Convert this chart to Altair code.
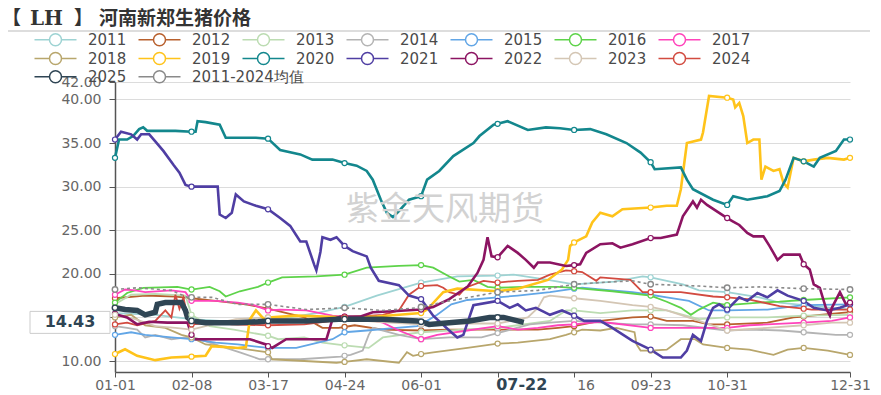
import altair as alt
import pandas as pd

SERIES = ["2011", "2012", "2013", "2014", "2015", "2016", "2017", "2018", "2019",
          "2020", "2021", "2022", "2023", "2024", "2025", "2011-2024均值"]
COLORS = ["#9ed3d3", "#b8602e", "#bcdcb2", "#b4b4b4", "#62a6e6", "#5ed34a", "#ff44bb",
          "#b8a66c", "#ffc31a", "#13878d", "#4f3ea3", "#8c1462", "#d4c6b4", "#d24b40",
          "#2f4554", "#8a8a8a"]

MARK_DAYS = [0, 38, 76, 114, 152, 190, 228, 266, 304, 342, 365]
TICK_DAYS = [0, 38, 76, 114, 152, 190, 228, 266, 304, 365]
TICK_LABELS = ["01-01", "02-08", "03-17", "04-24", "06-01", "07-09", "08-16", "09-23", "10-31", "12-31"]
Y_TICKS = [10, 15, 20, 25, 30, 35, 40, 42]

S2011 = [(0, 15.5), (20, 15.3), (38, 14.8), (60, 14.5), (76, 14.6), (100, 15.5), (114, 16.2), (130, 17.5),
         (152, 19.0), (170, 19.7), (190, 19.8), (198, 19.9), (215, 19.3), (228, 18.8), (248, 19.1), (262, 19.7),
         (266, 19.6), (282, 18.8), (290, 18.1), (304, 17.9), (320, 17.3), (330, 16.7), (342, 16.4), (365, 15.9)]
S2012 = [(0, 17.2), (15, 17.5), (30, 17.4), (38, 17.2), (50, 16.9), (65, 16.5), (76, 16.0), (94, 15.0),
         (103, 13.8), (111, 13.8), (114, 13.9), (119, 14.1), (133, 13.6), (152, 13.5), (166, 13.6), (190, 13.6),
         (210, 13.6), (220, 13.8), (228, 14.0), (241, 14.6), (257, 15.0), (266, 15.1), (274, 14.6), (287, 14.6),
         (295, 14.2), (304, 14.2), (324, 14.4), (337, 15.0), (342, 15.1), (350, 15.3), (365, 15.6)]
S2013 = [(0, 16.5), (8, 17.6), (20, 17.7), (35, 17.5), (38, 15.3), (47, 14.0), (59, 13.6), (76, 12.9),
         (81, 12.5), (94, 12.7), (103, 12.1), (114, 11.8), (126, 11.5), (133, 12.7), (152, 13.3), (166, 13.5),
         (190, 13.8), (200, 14.1), (216, 14.6), (224, 15.8), (228, 15.8), (241, 15.5), (257, 15.8), (266, 15.8),
         (274, 15.8), (290, 14.8), (304, 15.0), (324, 15.0), (342, 15.2), (365, 15.3)]
S2014 = [(0, 14.0), (6, 13.8), (11, 13.6), (15, 12.7), (20, 13.0), (28, 12.5), (38, 12.8), (47, 12.1),
         (62, 11.0), (72, 10.2), (76, 10.2), (92, 10.2), (112, 10.5), (114, 10.6), (117, 10.7), (123, 11.2),
         (126, 13.0), (128, 13.8), (141, 13.0), (152, 12.5), (166, 12.7), (182, 12.7), (190, 13.2), (206, 14.2),
         (216, 14.4), (228, 14.6), (241, 14.4), (257, 14.2), (266, 14.2), (282, 14.1), (304, 13.5), (315, 13.6),
         (331, 13.5), (342, 13.3), (358, 13.0), (365, 13.0)]
S2015 = [(0, 13.0), (8, 13.3), (15, 13.0), (28, 12.7), (38, 12.5), (50, 12.1), (61, 11.9), (76, 11.5),
         (90, 11.5), (108, 12.5), (114, 13.3), (125, 13.5), (150, 14.0), (152, 14.2), (160, 15.3), (167, 16.5),
         (175, 17.0), (190, 17.3), (200, 17.5), (216, 17.9), (228, 18.3), (232, 18.4), (241, 18.2), (257, 17.9),
         (266, 17.6), (274, 17.3), (285, 16.9), (295, 15.8), (304, 15.8), (324, 15.9), (342, 16.4), (365, 16.5)]
S2016 = [(0, 16.7), (6, 17.8), (14, 18.4), (31, 18.5), (38, 18.2), (47, 18.5), (52, 18.0), (55, 17.4),
         (62, 18.0), (71, 18.5), (76, 19.0), (83, 19.6), (100, 19.7), (114, 19.9), (125, 20.7), (141, 20.9),
         (152, 21.0), (158, 20.7), (166, 19.7), (171, 19.1), (178, 19.3), (185, 18.5), (190, 18.4), (203, 18.5),
         (220, 18.5), (228, 18.4), (247, 18.0), (266, 17.5), (274, 16.8), (281, 16.1), (286, 15.3), (290, 15.9),
         (297, 16.7), (304, 16.4), (320, 16.7), (330, 16.8), (342, 17.0), (365, 17.3)]
S2017 = [(0, 17.6), (5, 18.2), (10, 18.1), (15, 17.9), (28, 18.1), (35, 17.9), (38, 16.9), (50, 16.9),
         (61, 16.7), (69, 16.4), (76, 15.8), (82, 15.9), (95, 15.8), (108, 15.2), (114, 15.1), (120, 15.0),
         (133, 14.4), (141, 13.5), (152, 12.5), (160, 13.0), (175, 13.5), (190, 14.0), (200, 13.6), (210, 13.8),
         (220, 14.1), (228, 14.2), (241, 14.5), (266, 13.8), (290, 13.8), (304, 13.8), (315, 14.1), (342, 14.4),
         (356, 14.6), (365, 15.0)]
S2018 = [(0, 15.0), (8, 15.3), (15, 14.1), (25, 13.8), (33, 13.0), (38, 12.7), (45, 11.9), (60, 11.5),
         (76, 11.0), (78, 10.2), (94, 10.0), (110, 9.8), (114, 9.9), (125, 10.2), (141, 9.8), (145, 11.0),
         (148, 10.6), (152, 10.8), (158, 11.0), (175, 11.5), (190, 12.0), (200, 12.1), (216, 12.5), (224, 13.0),
         (228, 13.3), (232, 13.6), (241, 13.5), (249, 13.8), (258, 13.3), (259, 11.9), (261, 11.2), (266, 11.2),
         (274, 11.3), (281, 12.5), (288, 12.5), (292, 11.9), (304, 11.5), (315, 11.3), (327, 10.7), (334, 11.3),
         (342, 11.5), (354, 11.2), (365, 10.7)]
S2019 = [(0, 10.8), (5, 11.35), (11, 10.6), (20, 10.1), (28, 10.4), (38, 10.5), (45, 10.6), (48, 11.7),
         (61, 11.5), (65, 11.6), (67, 14.8), (70, 15.8), (74, 14.8), (76, 15.0), (90, 15.2), (114, 15.0),
         (130, 15.1), (152, 15.5), (155, 15.9), (163, 17.9), (170, 18.3), (190, 18.0), (200, 18.3), (215, 19.3),
         (222, 20.5), (225, 21.6), (226, 23.2), (228, 23.6), (234, 24.3), (237, 25.9), (241, 27.0), (247, 26.6),
         (252, 27.4), (266, 27.6), (274, 27.8), (279, 27.8), (281, 29.7), (284, 35.0), (291, 35.4), (292, 36.2),
         (295, 40.4), (304, 40.2), (307, 40.0), (308, 39.1), (310, 39.6), (312, 38.1), (314, 35.0), (317, 35.4),
         (320, 35.4), (321, 30.8), (323, 32.3), (327, 31.8), (330, 32.0), (332, 30.4), (334, 29.9), (337, 33.3),
         (342, 32.9), (347, 33.1), (354, 33.3), (362, 33.1), (365, 33.3)]
S2020 = [(0, 33.3), (2, 35.4), (6, 35.4), (9, 35.8), (12, 36.6), (14, 36.8), (16, 36.4), (30, 36.4),
         (38, 36.3), (40, 36.3), (41, 37.5), (45, 37.4), (52, 37.1), (55, 35.6), (70, 35.6), (76, 35.5),
         (82, 34.2), (92, 33.7), (98, 33.1), (108, 33.1), (114, 32.7), (120, 32.4), (125, 31.8), (128, 30.8),
         (132, 28.5), (135, 27.0), (138, 26.5), (141, 27.2), (146, 28.5), (152, 28.9), (155, 30.8), (161, 31.8),
         (168, 33.5), (178, 35.0), (181, 35.8), (188, 37.1), (190, 37.2), (195, 37.5), (205, 36.5), (214, 36.8),
         (221, 36.7), (228, 36.5), (236, 36.6), (244, 36.0), (254, 35.0), (261, 33.9), (266, 32.8), (268, 32.0),
         (281, 32.2), (284, 30.8), (287, 29.7), (297, 28.5), (304, 27.9), (307, 28.9), (314, 28.5), (324, 28.9),
         (330, 29.5), (333, 30.8), (337, 33.3), (342, 32.9), (347, 32.3), (350, 33.3), (358, 34.1), (362, 35.4),
         (365, 35.4)]
S2021 = [(0, 35.4), (3, 36.3), (8, 36.0), (11, 35.4), (13, 36.0), (17, 36.0), (20, 35.2), (24, 34.1),
         (29, 32.5), (32, 31.6), (35, 30.2), (38, 30.0), (51, 30.0), (52, 26.8), (55, 26.4), (58, 27.0),
         (60, 29.1), (64, 28.3), (70, 27.8), (76, 27.4), (82, 26.4), (87, 25.5), (92, 23.7), (95, 23.7),
         (99, 21.0), (100, 20.4), (102, 22.5), (103, 24.2), (107, 23.9), (110, 24.2), (114, 23.2), (118, 22.6),
         (125, 22.0), (127, 20.7), (131, 19.2), (141, 18.7), (146, 17.5), (152, 17.1), (158, 15.2), (166, 13.5),
         (170, 12.7), (173, 13.0), (178, 16.4), (190, 16.9), (196, 16.1), (200, 16.5), (204, 15.8), (209, 16.1),
         (216, 15.3), (222, 15.8), (228, 15.2), (233, 14.6), (241, 14.6), (247, 13.8), (257, 12.3), (266, 11.3),
         (272, 10.4), (281, 10.4), (284, 11.2), (287, 13.0), (291, 12.3), (294, 14.6), (297, 16.1), (300, 16.5),
         (304, 15.9), (310, 17.3), (314, 16.9), (319, 17.8), (324, 17.3), (329, 18.1), (334, 17.5), (342, 16.9),
         (347, 16.1), (354, 15.8), (360, 16.1), (365, 16.5)]
S2022 = [(0, 15.4), (6, 15.0), (11, 14.2), (17, 14.5), (26, 14.4), (36, 14.4), (38, 13.0), (39, 12.5),
         (47, 12.5), (67, 12.5), (75, 11.9), (76, 11.7), (78, 11.5), (85, 12.5), (105, 12.5), (108, 14.8),
         (112, 15.1), (114, 15.1), (122, 15.1), (128, 15.6), (138, 15.7), (152, 15.9), (158, 16.2), (166, 17.1),
         (175, 18.5), (180, 20.1), (183, 21.6), (185, 24.2), (187, 22.0), (190, 21.9), (195, 23.2), (200, 22.4),
         (204, 21.6), (208, 20.7), (210, 21.3), (216, 21.3), (224, 20.9), (228, 21.0), (231, 21.1), (234, 22.4),
         (241, 23.4), (247, 23.5), (251, 23.0), (257, 23.4), (266, 24.1), (271, 24.1), (279, 24.5), (282, 26.6),
         (287, 28.3), (289, 27.6), (291, 28.5), (294, 27.9), (304, 26.4), (307, 26.0), (310, 25.6), (314, 24.7),
         (317, 24.3), (322, 24.3), (325, 23.2), (329, 21.6), (332, 22.2), (340, 22.2), (342, 21.1), (345, 20.5),
         (347, 18.8), (350, 18.4), (353, 16.1), (355, 15.2), (356, 16.1), (360, 17.9), (363, 16.5), (365, 16.7)]
S2023 = [(0, 15.3), (10, 14.8), (20, 14.0), (30, 13.8), (38, 13.6), (50, 14.3), (60, 14.8), (76, 15.0),
         (95, 14.6), (114, 14.8), (130, 14.5), (152, 14.2), (170, 14.3), (190, 14.3), (205, 15.0), (210, 16.1),
         (213, 17.3), (216, 17.5), (228, 17.2), (241, 16.9), (257, 16.4), (266, 16.2), (274, 15.8), (282, 15.2),
         (290, 14.6), (304, 13.5), (324, 13.8), (342, 14.1), (356, 14.4), (365, 14.4)]
S2024 = [(0, 14.2), (6, 14.4), (11, 14.1), (20, 14.6), (25, 15.8), (28, 15.0), (30, 17.6), (32, 16.0),
         (34, 17.3), (36, 15.0), (38, 14.2), (50, 14.4), (58, 14.2), (76, 14.1), (94, 14.2), (108, 14.6),
         (114, 15.0), (133, 15.3), (141, 15.8), (146, 17.6), (152, 18.6), (160, 18.7), (163, 18.4), (166, 17.9),
         (171, 17.6), (174, 18.4), (183, 19.2), (190, 19.0), (200, 19.2), (210, 19.3), (216, 19.9), (224, 20.4),
         (228, 20.3), (232, 20.2), (239, 19.2), (241, 19.6), (256, 19.3), (262, 17.9), (266, 17.9), (281, 17.9),
         (297, 17.4), (304, 17.3), (314, 17.1), (330, 16.3), (342, 16.0), (346, 15.9), (365, 15.9)]
S2025 = [(0, 16.1), (5, 15.9), (11, 15.8), (15, 15.3), (20, 15.6), (21, 16.5), (25, 16.7), (33, 16.7),
         (35, 15.8), (36, 15.0), (38, 14.6), (45, 14.4), (61, 14.4), (71, 14.5), (76, 14.6), (95, 14.6),
         (111, 14.8), (114, 14.8), (133, 14.8), (150, 14.6), (152, 14.5), (156, 14.2), (166, 14.4), (176, 14.6),
         (186, 15.0), (190, 15.0), (193, 15.0), (200, 14.6), (203, 14.43)]
SAVG = [(0, 18.2), (11, 18.4), (28, 18.1), (36, 17.3), (38, 17.3), (48, 17.3), (61, 16.5), (76, 16.5),
        (95, 15.9), (114, 16.1), (133, 15.8), (150, 16.1), (152, 16.2), (166, 16.9), (190, 17.9), (210, 18.1),
        (228, 18.8), (241, 19.0), (257, 19.2), (266, 18.8), (290, 18.6), (304, 18.4), (320, 18.5), (342, 18.3),
        (365, 18.2)]

ALL = [S2011, S2012, S2013, S2014, S2015, S2016, S2017, S2018, S2019, S2020,
       S2021, S2022, S2023, S2024, S2025, SAVG]

rows = []
for name, pts in zip(SERIES, ALL):
    for d, v in pts:
        rows.append({"series": name, "day": d, "value": v, "marker": d in MARK_DAYS})
df = pd.DataFrame(rows)

THIN = ["2011", "2012", "2013", "2014", "2015", "2016", "2017", "2018", "2023", "2024"]
BOLD = ["2019", "2020", "2021", "2022"]
YEARS = SERIES[:14]
EXTRA = SERIES[14:]

label_expr = "[" + ",".join("'%s'" % s for s in TICK_LABELS) + "][indexof([" + \
    ",".join(str(d) for d in TICK_DAYS) + "], datum.value)]"

X_ENC = alt.X("day:Q", scale=alt.Scale(domain=[0, 365], nice=False, zero=False),
              axis=alt.Axis(values=TICK_DAYS, labelExpr=label_expr, title=None, grid=False,
                            domainColor="#555", domainWidth=1.5, tickColor="#555", tickSize=5,
                            labelColor="#666", labelFont="DejaVu Sans", labelFontSize=14,
                            labelPadding=1, labelOverlap=False, labelFlush=False))
Y_ENC = alt.Y("value:Q", scale=alt.Scale(domain=[8.74, 42], nice=False, zero=False),
              axis=alt.Axis(values=Y_TICKS, labelExpr="datum.value == 15 ? '' : format(datum.value, '.2f')",
                            title=None, grid=True, gridColor="#dcdcdc", domainColor="#555", domainWidth=1.5,
                            tickColor="#555", tickSize=6, labelColor="#666", labelFont="DejaVu Sans",
                            labelFontSize=14, labelPadding=8, labelOverlap=False, labelFlush=False))
CS = alt.Scale(domain=SERIES, range=COLORS)
CS2 = alt.Scale(domain=EXTRA, range=COLORS[14:])

PATH = "M-3.5,0L-1,0M1,0L3.5,0M-1,0A1,1 0 1,1 1,0A1,1 0 1,1 -1,0"
LEG_COMMON = dict(title=None, orient="none", direction="horizontal", columns=7,
                  symbolType=PATH, symbolSize=144, symbolStrokeWidth=1.5, symbolFillColor="white",
                  symbolOpacity=1, labelFont="DejaVu Sans", labelFontSize=15, labelColor="#4a4a4a",
                  labelOffset=25, columnPadding=8, rowPadding=0, padding=0, labelLimit=300)
LEGEND = alt.Legend(legendX=-67, legendY=-50, values=YEARS, **LEG_COMMON)
LEGEND2 = alt.Legend(legendX=-67, legendY=-13, values=EXTRA, **LEG_COMMON)
S_ENC = alt.Stroke("series:N", scale=CS, legend=LEGEND)

base = alt.Chart(df)
thin = base.transform_filter(alt.FieldOneOfPredicate(field="series", oneOf=THIN)).mark_line(
    strokeWidth=1.8).encode(x=X_ENC, y=Y_ENC, stroke=S_ENC)
bold = base.transform_filter(alt.FieldOneOfPredicate(field="series", oneOf=BOLD)).mark_line(
    strokeWidth=2.6).encode(x=X_ENC, y=Y_ENC, stroke=S_ENC)
avg = base.transform_filter(alt.datum.series == "2011-2024均值").mark_line(
    strokeWidth=1.6, strokeDash=[3, 3]).encode(x=X_ENC, y=Y_ENC, stroke=S_ENC)
cur = base.transform_filter(alt.datum.series == "2025").mark_line(
    strokeWidth=5.5).encode(x=X_ENC, y=Y_ENC, stroke=S_ENC)
pts = base.transform_filter("datum.marker").transform_filter(
    alt.FieldOneOfPredicate(field="series", oneOf=YEARS)).mark_point(
    shape="circle", size=26, fill="white", strokeWidth=1.2, opacity=1).encode(
    x=X_ENC, y=Y_ENC, stroke=S_ENC)
pts2 = base.transform_filter("datum.marker").transform_filter(
    alt.FieldOneOfPredicate(field="series", oneOf=EXTRA)).mark_point(
    shape="circle", size=30, filled=False, fill="white", strokeWidth=1.4, opacity=1).encode(
    x=X_ENC, y=Y_ENC, color=alt.Color("series:N", scale=CS2, legend=LEGEND2))

one = pd.DataFrame({"t": ["x"]})
TITLE_STYLE = dict(align="left", baseline="alphabetic", fontWeight="bold", color="#333")
t_open = alt.Chart(one).mark_text(text="【", font="Noto Sans CJK SC", fontSize=19, **TITLE_STYLE).encode(
    x=alt.value(-113), y=alt.value(-57))
t_lh = alt.Chart(one).mark_text(text="LH", font="DejaVu Serif", fontSize=20, **TITLE_STYLE).encode(
    x=alt.value(-85), y=alt.value(-57))
t_close = alt.Chart(one).mark_text(text="】", font="Noto Sans CJK SC", fontSize=19, **TITLE_STYLE).encode(
    x=alt.value(-41), y=alt.value(-57))
title2 = alt.Chart(one).mark_text(text="河南新郑生猪价格", font="Noto Sans CJK SC", fontSize=19,
                                  **TITLE_STYLE).encode(x=alt.value(-16), y=alt.value(-57))
title_rule = alt.Chart(one).mark_rule(color="#bbbbbb", strokeWidth=1).encode(
    x=alt.value(-108), x2=alt.value(760), y=alt.value(-51))
watermark = alt.Chart(one).mark_text(text="紫金天风期货", font="Noto Sans CJK SC", fontSize=33,
                                     color="#d2d2d2").encode(x=alt.value(330), y=alt.value(128))

ybox = alt.Chart(one).mark_rect(fill="white", stroke="#cccccc", strokeWidth=1, width=80, height=22).encode(
    x=alt.value(-45), y=alt.datum(14.43))
ytext = alt.Chart(one).mark_text(text="14.43", font="DejaVu Sans", fontSize=16, fontWeight="bold",
                                 color="#2f4554").encode(x=alt.value(-45), y=alt.datum(14.43))
xbox = alt.Chart(one).mark_rect(fill="white", width=104, height=18).encode(
    x=alt.datum(204), y=alt.value(305))
xtext = alt.Chart(one).mark_text(text="07-22", font="DejaVu Sans", fontSize=16, fontWeight="bold",
                                 color="#2f4554").encode(x=alt.datum(202), y=alt.value(303))

chart = alt.layer(thin, bold, avg, cur, pts, pts2, watermark, t_open, t_lh, t_close, title2, title_rule,
                  ybox, ytext, xbox, xtext).properties(
    width=735, height=290,
    padding={"left": 107, "top": 74, "right": 20, "bottom": 20},
    autosize=alt.AutoSizeParams(type="none"),
).configure_view(stroke=None)

chart.save("out.html", embed_options={"renderer": "svg", "actions": False})
